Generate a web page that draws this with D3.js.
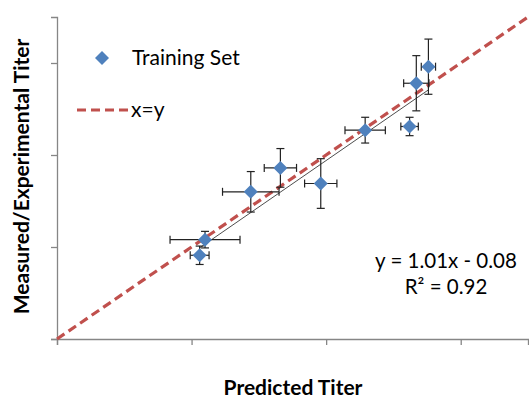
<!DOCTYPE html>
<html>
<head>
<meta charset="utf-8">
<script src="https://cdn.jsdelivr.net/npm/d3@7"></script>
<style>
  body { margin: 0; background: #fff; }
  text { font-family: Lato, "Open Sans", sans-serif; fill: #000; }
</style>
</head>
<body>
<div id="chart"></div>
<script>
// Training set points (predicted vs measured titer) with error bars
const predicted = [1.06, 1.10, 1.44, 1.66, 1.96, 2.29, 2.62, 2.67, 2.76];
const measured  = [0.91, 1.08, 1.60, 1.86, 1.69, 2.27, 2.31, 2.78, 2.96];
const xErr      = [0.07, 0.26, 0.21, 0.12, 0.12, 0.15, 0.065, 0.094, 0.053];
const yErr      = [0.10, 0.09, 0.22, 0.21, 0.27, 0.14, 0.10, 0.30, 0.30];

// trendline from the label
const slope = 1.01, intercept = -0.08;
const ticks = [0, 1, 2, 3];

const data = predicted.map((p, i) => ({x: p, y: measured[i], ex: xErr[i], ey: yErr[i]}));

const svg = d3.select("#chart").append("svg")
    .attr("width", 529)
    .attr("height", 401);

const margin = {top: 17, right: 1, bottom: 62, left: 57},
    width = 529 - margin.left - margin.right,
    height = 401 - margin.top - margin.bottom;

const x = d3.scaleLinear().domain([0, 3.5]).range([0, width]);
const y = d3.scaleLinear().domain([0, 3.5]).range([height, 0]);

const g = svg.append("g")
    .attr("transform", "translate(" + margin.left + "," + margin.top + ")");

// axes
const xAxis = g.append("g")
    .attr("transform", "translate(0," + height + ")")
    .call(d3.axisBottom(x).tickValues(ticks).tickSize(6).tickFormat(""));
const yAxis = g.append("g")
    .call(d3.axisLeft(y).tickValues(ticks).tickSize(6).tickFormat(""));
[xAxis, yAxis].forEach(a => {
    a.select(".domain").attr("stroke", "#868686").attr("stroke-width", 1.3);
    a.selectAll(".tick line").attr("stroke", "#868686").attr("stroke-width", 1.3);
});

// x=y dashed line
g.append("line")
    .attr("x1", x(0)).attr("y1", y(0))
    .attr("x2", x(3.5)).attr("y2", y(3.5))
    .attr("stroke", "#C0504D")
    .attr("stroke-width", 3.2)
    .attr("stroke-dasharray", "9,5");

// trendline over the data range
const xMin = d3.min(predicted), xMax = d3.max(predicted);
g.append("line")
    .attr("x1", x(xMin)).attr("y1", y(slope * xMin + intercept))
    .attr("x2", x(xMax)).attr("y2", y(slope * xMax + intercept))
    .attr("stroke", "#222")
    .attr("stroke-width", 1)
    .attr("opacity", 0.8);

// error bars
const cap = 4;
const eb = g.selectAll(".err").data(data).enter().append("g")
    .attr("class", "err")
    .attr("stroke", "#222")
    .attr("stroke-width", 1.2);
eb.append("line")
    .attr("x1", d => x(d.x - d.ex)).attr("x2", d => x(d.x + d.ex))
    .attr("y1", d => y(d.y)).attr("y2", d => y(d.y));
eb.append("line")
    .attr("x1", d => x(d.x)).attr("x2", d => x(d.x))
    .attr("y1", d => y(d.y - d.ey)).attr("y2", d => y(d.y + d.ey));
eb.append("line")
    .attr("x1", d => x(d.x - d.ex)).attr("x2", d => x(d.x - d.ex))
    .attr("y1", d => y(d.y) - cap).attr("y2", d => y(d.y) + cap);
eb.append("line")
    .attr("x1", d => x(d.x + d.ex)).attr("x2", d => x(d.x + d.ex))
    .attr("y1", d => y(d.y) - cap).attr("y2", d => y(d.y) + cap);
eb.append("line")
    .attr("x1", d => x(d.x) - cap).attr("x2", d => x(d.x) + cap)
    .attr("y1", d => y(d.y - d.ey)).attr("y2", d => y(d.y - d.ey));
eb.append("line")
    .attr("x1", d => x(d.x) - cap).attr("x2", d => x(d.x) + cap)
    .attr("y1", d => y(d.y + d.ey)).attr("y2", d => y(d.y + d.ey));

// diamond markers
const diamond = d3.symbol().type(d3.symbolDiamond2).size(125);
g.selectAll(".pt").data(data).enter().append("path")
    .attr("class", "pt")
    .attr("d", diamond)
    .attr("transform", d => "translate(" + x(d.x) + "," + y(d.y) + ")")
    .attr("fill", "#4F81BD");

// legend
svg.append("path")
    .attr("d", diamond)
    .attr("transform", "translate(102,58)")
    .attr("fill", "#4F81BD");
svg.append("text")
    .attr("x", 132).attr("y", 65)
    .style("font-size", "21px")
    .text("Training Set");
svg.append("line")
    .attr("x1", 77).attr("x2", 129)
    .attr("y1", 110).attr("y2", 110)
    .attr("stroke", "#C0504D")
    .attr("stroke-width", 3.2)
    .attr("stroke-dasharray", "9,5");
svg.append("text")
    .attr("x", 131).attr("y", 117)
    .style("font-size", "21px")
    .text("x=y");

// equation
svg.append("text")
    .attr("x", 446).attr("y", 268)
    .attr("text-anchor", "middle")
    .style("font-size", "20.5px")
    .text("y = 1.01x - 0.08");
svg.append("text")
    .attr("x", 446).attr("y", 294)
    .attr("text-anchor", "middle")
    .style("font-size", "20.5px")
    .text("R² = 0.92");

// axis titles
svg.append("text")
    .attr("x", 293).attr("y", 395)
    .attr("text-anchor", "middle")
    .style("font-size", "21px")
    .style("font-weight", "bold")
    .text("Predicted Titer");
svg.append("text")
    .attr("transform", "translate(29,176.5) rotate(-90)")
    .attr("text-anchor", "middle")
    .style("font-size", "21px")
    .style("font-weight", "bold")
    .text("Measured/Experimental Titer");
</script>
</body>
</html>
